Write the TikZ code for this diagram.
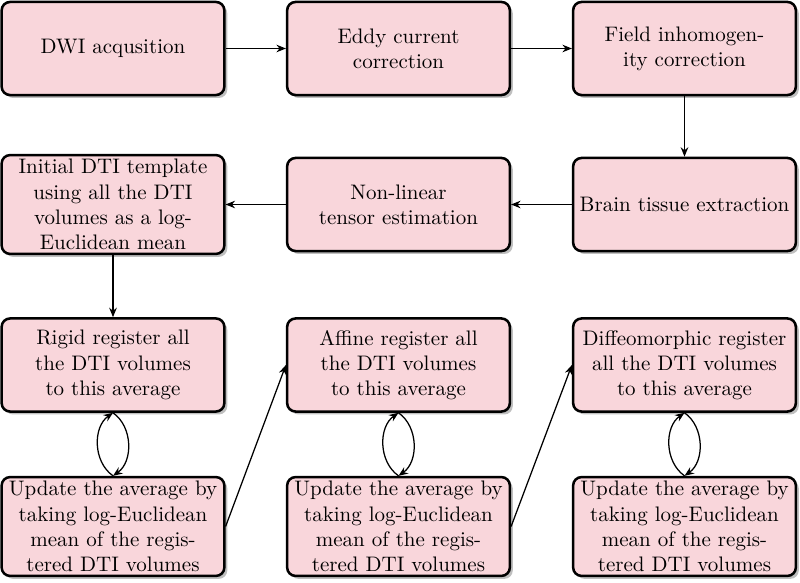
\documentclass[tikz,border=0pt]{standalone}
\usetikzlibrary{shadows,arrows.meta}
\definecolor{boxpink}{RGB}{249,214,219}
\begin{document}
\begin{tikzpicture}[x=0.476pt,y=-0.476pt,
  stepbox/.style={draw=black, line width=1.2pt, fill=boxpink, rounded corners=4pt,
    minimum width=106pt, minimum height=44.3pt, inner xsep=2pt, inner ysep=2pt,
    align=center, font=\fontsize{10}{12}\selectfont,
    drop shadow={shadow xshift=1.4pt, shadow yshift=-1.4pt, opacity=0.5}},
  conn/.style={-{Stealth[length=4.5pt,width=3.6pt]}, line width=0.6pt}]
\useasboundingbox (0,0) rectangle (800,583);
\node[stepbox] (dwi)   at (113,48.5)   {DWI acqusition};
\node[stepbox] (eddy)  at (398.5,48.5) {Eddy current\\correction};
\node[stepbox] (field) at (684.5,48.5) {Field inhomogen-\\ity correction};
\node[stepbox] (brain) at (684.5,204.5) {Brain tissue extraction};
\node[stepbox] (tens)  at (398.5,204.5) {Non-linear\\tensor estimation};
\node[stepbox] (init)  at (113,204.5)   {Initial DTI template\\using all the DTI\\volumes as a log-\\Euclidean mean};
\node[stepbox] (rigid) at (113,365)   {Rigid register all\\the DTI volumes\\to this average};
\node[stepbox] (aff)   at (398.5,365) {Affine register all\\the DTI volumes\\to this average};
\node[stepbox] (diff)  at (684.5,365) {Diffeomorphic register\\all the DTI volumes\\to this average};
\node[stepbox] (up1) at (113,526.5)   {Update the average by\\taking log-Euclidean\\mean of the regis-\\tered DTI volumes};
\node[stepbox] (up2) at (398.5,526.5) {Update the average by\\taking log-Euclidean\\mean of the regis-\\tered DTI volumes};
\node[stepbox] (up3) at (684.5,526.5) {Update the average by\\taking log-Euclidean\\mean of the regis-\\tered DTI volumes};
\draw[conn] (dwi) -- (eddy);
\draw[conn] (eddy) -- (field);
\draw[conn] (field) -- (brain);
\draw[conn] (brain) -- (tens);
\draw[conn] (tens) -- (init);
\draw[conn] (init) -- (rigid);
\draw[conn] (rigid.south) to[bend left=55] (up1.north);
\draw[conn] (up1.north) to[bend left=55] (rigid.south);
\draw[conn] (aff.south) to[bend left=55] (up2.north);
\draw[conn] (up2.north) to[bend left=55] (aff.south);
\draw[conn] (diff.south) to[bend left=55] (up3.north);
\draw[conn] (up3.north) to[bend left=55] (diff.south);
\draw[conn] (up1.east) -- (aff.west);
\draw[conn] (up2.east) -- (diff.west);
\end{tikzpicture}
\end{document}
